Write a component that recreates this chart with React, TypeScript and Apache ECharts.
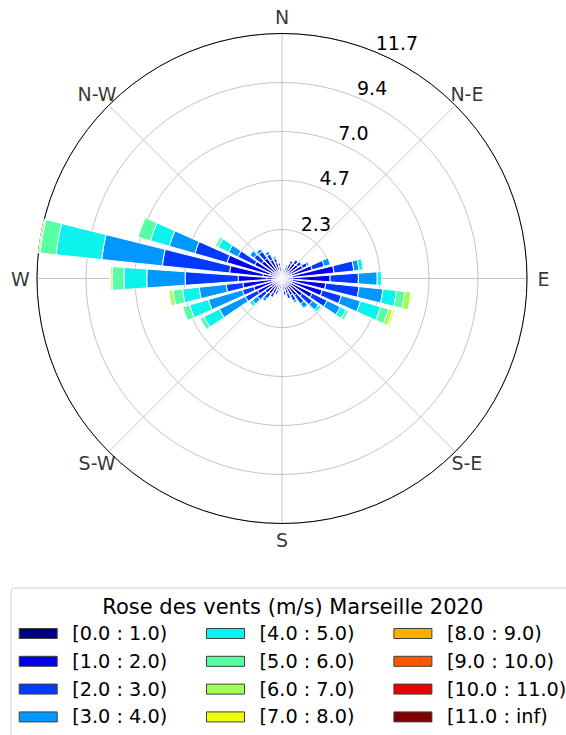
import React, { useEffect, useRef } from 'react';
import * as echarts from 'echarts';

// Wind directions (degrees, 36 sectors of 10°)
const directions = [
  '0', '10', '20', '30', '40', '50', '60', '70', '80', '90', '100', '110',
  '120', '130', '140', '150', '160', '170', '180', '190', '200', '210', '220', '230',
  '240', '250', '260', '270', '280', '290', '300', '310', '320', '330', '340', '350',
];

// Compass tick labels (every 45°)
const compassLabels = ['N', 'N-E', 'E', 'S-E', 'S', 'S-W', 'W', 'N-W'];

// Radial tick values (frequency, %)
const radiusTicks = [2.34, 4.68, 7.02, 9.36, 11.7];

// Speed bins
const speedBins = [
  '[0.0 : 1.0)', '[1.0 : 2.0)', '[2.0 : 3.0)', '[3.0 : 4.0)',
  '[4.0 : 5.0)', '[5.0 : 6.0)', '[6.0 : 7.0)', '[7.0 : 8.0)',
  '[8.0 : 9.0)', '[9.0 : 10.0)', '[10.0 : 11.0)', '[11.0 : inf)',
];

const binColors = [
  '#000080', '#0000e9', '#003aff', '#0097ff', '#0bf3ec', '#56ffa1',
  '#a1ff56', '#ecff0b', '#ffad00', '#ff5700', '#e90000', '#800000',
];

// Frequencies per direction for each speed bin
const freq0 = [0.3, 0.3, 0.3, 0.35, 0.35, 0.35, 0.4, 0.45, 0.5, 0.5, 0.5, 0.5, 0.45, 0.4, 0.4, 0.35, 0.3, 0.3, 0.3, 0.3, 0.3, 0.35, 0.35, 0.4, 0.45, 0.45, 0.5, 0.73, 0.92, 0.6, 0.5, 0.45, 0.4, 0.4, 0.35, 0.3];
const freq1 = [0.2, 0.15, 0.25, 0.45, 0.55, 0.6, 0.7, 1.05, 2.0, 1.8, 1.6, 1.5, 1.15, 0.8, 0.6, 0.55, 0.45, 0.3, 0.2, 0.2, 0.3, 0.45, 0.55, 0.6, 0.85, 0.95, 1.38, 1.36, 1.6, 2.13, 0.95, 0.75, 0.8, 0.6, 0.45, 0.3];
const freq2 = [0, 0, 0.1, 0.15, 0.2, 0.2, 0.25, 0.6, 0.95, 1.35, 1.6, 0.95, 0.8, 0.6, 0.5, 0.3, 0.25, 0.2, 0.1, 0.1, 0.2, 0.2, 0.3, 0.45, 0.65, 0.57, 0.8, 2.54, 3.23, 1.6, 0.9, 0.45, 0.4, 0.3, 0.2, 0.15];
const freq3 = [0, 0, 0, 0, 0, 0, 0.1, 0.3, 0.25, 0.9, 1.15, 0.95, 0.7, 0.35, 0.25, 0.1, 0, 0, 0, 0, 0, 0, 0.15, 0.3, 1.38, 1.69, 1.3, 1.83, 2.91, 1.27, 0.5, 0.25, 0.15, 0.15, 0.1, 0];
const freq4 = [0, 0, 0, 0, 0, 0, 0, 0, 0.2, 0.2, 0.65, 1.0, 0.3, 0.15, 0.05, 0, 0, 0, 0, 0, 0, 0, 0, 0.17, 0.82, 0.93, 0.8, 1.09, 2.19, 0.94, 0.55, 0, 0, 0, 0, 0];
const freq5 = [0, 0, 0, 0, 0, 0, 0, 0, 0, 0, 0.4, 0.4, 0.15, 0, 0, 0, 0, 0, 0, 0, 0, 0, 0, 0, 0.2, 0.34, 0.46, 0.57, 0.77, 0.61, 0.15, 0, 0, 0, 0, 0];
const freq6 = [0, 0, 0, 0, 0, 0, 0, 0, 0, 0, 0.3, 0.2, 0, 0, 0, 0, 0, 0, 0, 0, 0, 0, 0, 0, 0, 0, 0.19, 0.08, 0.08, 0, 0, 0, 0, 0, 0, 0];
const freq7 = [0, 0, 0, 0, 0, 0, 0, 0, 0, 0, 0, 0.1, 0, 0, 0, 0, 0, 0, 0, 0, 0, 0, 0, 0, 0, 0, 0, 0, 0, 0, 0, 0, 0, 0, 0, 0];
const freq8 = [0, 0, 0, 0, 0, 0, 0, 0, 0, 0, 0, 0, 0, 0, 0, 0, 0, 0, 0, 0, 0, 0, 0, 0, 0, 0, 0, 0, 0, 0, 0, 0, 0, 0, 0, 0];
const freq9 = [0, 0, 0, 0, 0, 0, 0, 0, 0, 0, 0, 0, 0, 0, 0, 0, 0, 0, 0, 0, 0, 0, 0, 0, 0, 0, 0, 0, 0, 0, 0, 0, 0, 0, 0, 0];
const freq10 = [0, 0, 0, 0, 0, 0, 0, 0, 0, 0, 0, 0, 0, 0, 0, 0, 0, 0, 0, 0, 0, 0, 0, 0, 0, 0, 0, 0, 0, 0, 0, 0, 0, 0, 0, 0];
const freq11 = [0, 0, 0, 0, 0, 0, 0, 0, 0, 0, 0, 0, 0, 0, 0, 0, 0, 0, 0, 0, 0, 0, 0, 0, 0, 0, 0, 0, 0, 0, 0, 0, 0, 0, 0, 0];

const binValues = [freq0, freq1, freq2, freq3, freq4, freq5, freq6, freq7, freq8, freq9, freq10, freq11];

const legendTitle = 'Rose des vents (m/s) Marseille 2020';

const FONT = 'DejaVu Sans';

export default function App() {
  const ref = useRef<HTMLDivElement>(null);

  useEffect(() => {
    document.body.style.margin = '0';
    if (!ref.current) return;
    const chart = echarts.init(ref.current, undefined, { renderer: 'svg' });
    const center = [282, 278.5];
    const radius = 245;
    const rMax = radiusTicks[radiusTicks.length - 1];
    const rStep = radiusTicks[0];
    const labelRadius = rMax * (1 + 16.5 / radius);

    const barSeries = speedBins.map((name, k) => ({
      type: 'bar',
      name,
      coordinateSystem: 'polar',
      polarIndex: 1,
      stack: 'wind',
      barCategoryGap: '20%',
      data: binValues[k].map((v) => (v > 0 ? v : '-')),
      itemStyle: { color: binColors[k], borderColor: '#ffffff', borderWidth: 1 },
      emphasis: { disabled: true },
      silent: true,
    }));

    const compassSeries = {
      type: 'scatter',
      name: 'compass',
      coordinateSystem: 'polar',
      polarIndex: 0,
      clip: false,
      symbolSize: 0,
      silent: true,
      itemStyle: { color: '#000000' },
      data: compassLabels.map((name, i) => ({ name, value: [labelRadius, i * 45] })),
      label: {
        show: true,
        position: 'inside',
        formatter: '{b}',
        fontFamily: FONT,
        fontSize: 19,
        color: '#000000',
        textBorderWidth: 0,
        textBorderColor: 'transparent',
        align: 'center',
        verticalAlign: 'middle',
      },
    };

    const legendBase = {
      orient: 'vertical',
      top: 620.5,
      height: 112,
      padding: 0,
      icon: 'rect',
      itemWidth: 38,
      itemHeight: 10,
      itemGap: 1.8,
      selectedMode: false,
      itemStyle: { borderColor: '#404040', borderWidth: 1 },
      textStyle: {
        fontFamily: FONT,
        fontSize: 19.25,
        color: '#000',
        lineHeight: 20,
        padding: [6, 0, 0, 10],
      },
    };

    chart.setOption({
      animation: false,
      polar: [
        { center, radius },
        { center, radius },
        { center, radius },
      ],
      angleAxis: [
        {
          polarIndex: 0,
          type: 'value',
          min: 0,
          max: 360,
          interval: 45,
          startAngle: 90,
          clockwise: true,
          axisLine: { show: true, lineStyle: { color: '#000', width: 1 } },
          axisTick: { show: false },
          axisLabel: { show: false },
          splitLine: { show: true, lineStyle: { color: '#c4c4c4', width: 1 } },
        },
        {
          polarIndex: 1,
          type: 'category',
          data: directions,
          startAngle: 95,
          clockwise: true,
          show: false,
        },
        {
          polarIndex: 2,
          type: 'value',
          min: 0,
          max: 360,
          startAngle: 67.5,
          clockwise: true,
          show: false,
        },
      ],
      radiusAxis: [
        {
          polarIndex: 0,
          type: 'value',
          min: 0,
          max: rMax,
          interval: rStep,
          axisLine: { show: false },
          axisTick: { show: false },
          axisLabel: { show: false },
          splitLine: { show: true, lineStyle: { color: '#c4c4c4', width: 1 } },
        },
        {
          polarIndex: 1,
          type: 'value',
          min: 0,
          max: rMax,
          show: false,
        },
        {
          polarIndex: 2,
          type: 'value',
          min: 0,
          max: rMax,
          interval: rStep,
          axisLine: { show: false },
          axisTick: { show: false },
          splitLine: { show: false },
          axisLabel: {
            show: true,
            margin: 0,
            align: 'left',
            verticalAlign: 'bottom',
            fontFamily: FONT,
            fontSize: 19,
            color: '#000',
            formatter: (v: number) => (v <= 0 ? '' : v.toFixed(1)),
          },
        },
      ],
      legend: [
        { ...legendBase, left: 18.7, data: speedBins.slice(0, 4) },
        { ...legendBase, left: 206, data: speedBins.slice(4, 8) },
        { ...legendBase, left: 393.4, data: speedBins.slice(8, 12) },
      ],
      graphic: [
        {
          type: 'rect',
          z: 0,
          silent: true,
          shape: { x: 11, y: 588, width: 564, height: 200, r: 4 },
          style: { fill: '#ffffff', stroke: '#d0d0d0', lineWidth: 1 },
        },
        {
          type: 'text',
          z: 1,
          silent: true,
          x: 292.8,
          y: 606.7,
          style: {
            text: legendTitle,
            fontFamily: FONT,
            fontSize: 21,
            fill: '#000',
            align: 'center',
            verticalAlign: 'middle',
          },
        },
      ],
      series: [...barSeries, compassSeries],
    });
    return () => chart.dispose();
  }, []);

  return <div ref={ref} style={{ width: 566, height: 735 }} />;
}
